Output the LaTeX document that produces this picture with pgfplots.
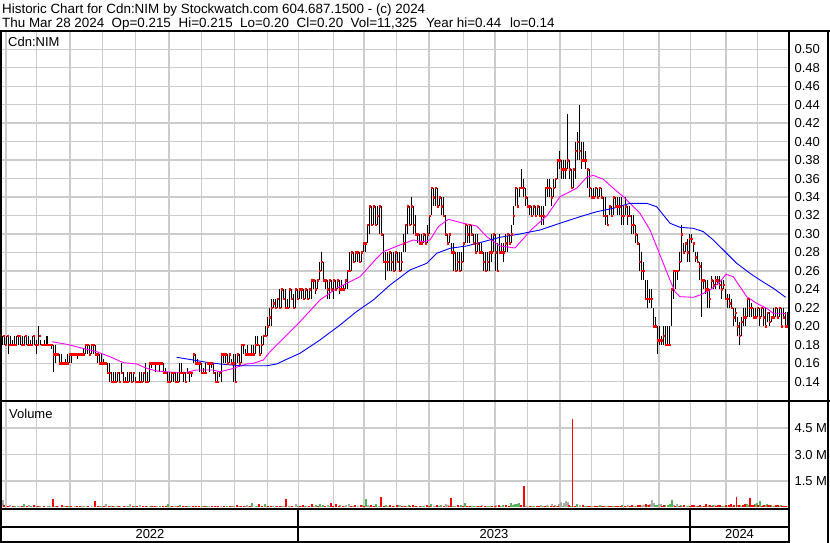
\documentclass[border=0pt]{standalone}
\usepackage{fontspec}
\setmainfont{Liberation Sans}
\usepackage{pgfplots}
\usepackage{pgfplotstable}
\pgfplotsset{compat=1.18}

\definecolor{gridc}{RGB}{204,204,204}
\definecolor{mamag}{RGB}{255,0,255}
\definecolor{mablue}{RGB}{0,0,255}
\definecolor{volred}{RGB}{255,0,0}
\definecolor{volgreen}{RGB}{90,180,90}
\definecolor{volgray}{RGB}{170,170,170}

% x is the horizontal position on the chart (month grid below), prices in dollars
\pgfplotstableread[row sep=\\]{
x h l c\\
3 0.19 0.18 0.19\\ 5 0.19 0.18 0.18\\ 7 0.19 0.18 0.19\\ 9 0.19 0.17 0.18\\ 11 0.19 0.18 0.18\\ 13 0.185 0.18 0.18\\
15 0.19 0.18 0.18\\ 17 0.19 0.18 0.19\\ 19 0.19 0.18 0.19\\ 21 0.19 0.18 0.18\\ 23 0.19 0.18 0.18\\ 25 0.19 0.18 0.19\\
27 0.19 0.18 0.18\\ 29 0.19 0.18 0.18\\ 31 0.185 0.18 0.18\\ 33 0.19 0.18 0.19\\ 35 0.19 0.18 0.18\\ 37 0.185 0.17 0.18\\
39 0.20 0.18 0.19\\ 41 0.185 0.18 0.18\\ 43 0.18 0.18 0.18\\ 45 0.185 0.18 0.18\\ 47 0.19 0.18 0.18\\ 49 0.18 0.18 0.18\\
51 0.18 0.175 0.18\\ 53 0.18 0.15 0.17\\ 55 0.18 0.16 0.17\\ 57 0.17 0.17 0.17\\ 59 0.17 0.16 0.16\\ 61 0.17 0.16 0.16\\
63 0.16 0.16 0.16\\ 65 0.165 0.16 0.16\\ 67 0.17 0.16 0.16\\ 69 0.17 0.16 0.17\\ 71 0.17 0.16 0.17\\ 73 0.17 0.17 0.17\\
75 0.17 0.17 0.17\\ 77 0.17 0.165 0.17\\ 79 0.17 0.17 0.17\\ 81 0.17 0.17 0.17\\ 83 0.175 0.17 0.17\\ 85 0.18 0.17 0.18\\
87 0.18 0.17 0.18\\ 89 0.18 0.17 0.17\\ 91 0.18 0.17 0.18\\ 93 0.18 0.17 0.18\\ 95 0.18 0.17 0.17\\ 97 0.17 0.16 0.17\\
99 0.17 0.16 0.16\\ 101 0.17 0.16 0.16\\ 103 0.165 0.16 0.16\\ 105 0.16 0.16 0.16\\ 107 0.16 0.15 0.15\\ 109 0.16 0.14 0.15\\
111 0.15 0.14 0.14\\ 113 0.15 0.14 0.14\\ 115 0.15 0.14 0.14\\ 117 0.15 0.14 0.15\\ 119 0.15 0.14 0.14\\ 121 0.16 0.15 0.15\\
123 0.15 0.14 0.14\\ 125 0.145 0.14 0.14\\ 127 0.15 0.14 0.14\\ 129 0.15 0.14 0.15\\ 131 0.15 0.14 0.14\\ 133 0.15 0.14 0.15\\
135 0.145 0.14 0.14\\ 137 0.14 0.14 0.14\\ 139 0.15 0.14 0.14\\ 141 0.15 0.14 0.14\\ 143 0.15 0.14 0.15\\ 145 0.16 0.14 0.14\\
147 0.15 0.14 0.14\\ 149 0.16 0.14 0.16\\ 151 0.16 0.155 0.16\\ 153 0.16 0.16 0.16\\ 155 0.16 0.15 0.16\\ 157 0.16 0.16 0.16\\
159 0.16 0.15 0.16\\ 161 0.16 0.16 0.16\\ 163 0.16 0.15 0.15\\ 165 0.155 0.15 0.15\\ 167 0.15 0.14 0.14\\ 169 0.15 0.14 0.14\\
171 0.15 0.14 0.15\\ 173 0.15 0.14 0.15\\ 175 0.15 0.14 0.14\\ 177 0.15 0.14 0.14\\ 179 0.16 0.14 0.15\\ 181 0.16 0.15 0.15\\
183 0.15 0.14 0.15\\ 185 0.15 0.14 0.14\\ 187 0.155 0.15 0.15\\ 189 0.15 0.14 0.15\\ 191 0.15 0.145 0.15\\ 193 0.17 0.16 0.17\\
195 0.17 0.16 0.16\\ 197 0.165 0.16 0.16\\ 199 0.16 0.15 0.16\\ 201 0.16 0.15 0.15\\ 203 0.155 0.15 0.15\\ 205 0.16 0.15 0.15\\
207 0.16 0.16 0.16\\ 209 0.16 0.15 0.16\\ 211 0.16 0.155 0.16\\ 213 0.16 0.15 0.15\\ 215 0.15 0.14 0.14\\ 217 0.15 0.14 0.14\\
219 0.15 0.145 0.15\\ 221 0.17 0.14 0.17\\ 223 0.17 0.16 0.17\\ 225 0.17 0.16 0.17\\ 227 0.17 0.16 0.16\\ 229 0.17 0.16 0.17\\
231 0.165 0.16 0.16\\ 233 0.17 0.14 0.16\\ 235 0.17 0.14 0.14\\ 237 0.17 0.16 0.17\\ 239 0.17 0.16 0.16\\ 241 0.18 0.16 0.18\\
243 0.18 0.17 0.18\\ 245 0.175 0.17 0.17\\ 247 0.18 0.17 0.17\\ 249 0.17 0.17 0.17\\ 251 0.18 0.17 0.17\\ 253 0.18 0.17 0.17\\
255 0.19 0.17 0.18\\ 257 0.19 0.18 0.18\\ 259 0.18 0.17 0.17\\ 261 0.19 0.17 0.18\\ 263 0.19 0.18 0.19\\ 265 0.20 0.19 0.19\\
267 0.21 0.19 0.20\\ 269 0.22 0.20 0.21\\ 271 0.23 0.20 0.22\\ 273 0.23 0.22 0.225\\ 275 0.23 0.22 0.22\\ 277 0.23 0.22 0.23\\
279 0.24 0.22 0.22\\ 281 0.24 0.22 0.24\\ 283 0.24 0.23 0.23\\ 285 0.24 0.22 0.22\\ 287 0.23 0.22 0.22\\ 289 0.24 0.22 0.24\\
291 0.24 0.23 0.23\\ 293 0.235 0.22 0.22\\ 295 0.24 0.22 0.24\\ 297 0.24 0.23 0.23\\ 299 0.24 0.23 0.24\\ 301 0.24 0.23 0.24\\
303 0.24 0.23 0.23\\ 305 0.24 0.23 0.24\\ 307 0.24 0.23 0.23\\ 309 0.24 0.23 0.24\\ 311 0.25 0.23 0.25\\ 313 0.25 0.24 0.25\\
315 0.25 0.235 0.24\\ 317 0.25 0.24 0.25\\ 319 0.27 0.25 0.26\\ 321 0.28 0.26 0.27\\ 323 0.27 0.25 0.25\\ 325 0.25 0.24 0.25\\
327 0.25 0.23 0.24\\ 329 0.25 0.23 0.25\\ 331 0.25 0.24 0.24\\ 333 0.25 0.23 0.25\\ 335 0.25 0.24 0.24\\ 337 0.25 0.24 0.25\\
339 0.25 0.235 0.24\\ 341 0.25 0.24 0.24\\ 343 0.245 0.24 0.24\\ 345 0.25 0.24 0.25\\ 347 0.26 0.24 0.26\\ 349 0.28 0.26 0.26\\
351 0.28 0.26 0.28\\ 353 0.28 0.27 0.27\\ 355 0.28 0.27 0.28\\ 357 0.28 0.27 0.28\\ 359 0.28 0.27 0.27\\ 361 0.28 0.27 0.28\\
363 0.29 0.28 0.29\\ 365 0.29 0.28 0.29\\ 367 0.31 0.29 0.31\\ 369 0.33 0.30 0.33\\ 371 0.33 0.31 0.31\\ 373 0.33 0.31 0.33\\
375 0.33 0.31 0.31\\ 377 0.33 0.31 0.32\\ 379 0.33 0.30 0.33\\ 381 0.33 0.30 0.30\\ 383 0.30 0.27 0.27\\ 385 0.28 0.25 0.27\\
387 0.28 0.26 0.27\\ 389 0.28 0.26 0.28\\ 391 0.28 0.26 0.27\\ 393 0.28 0.26 0.26\\ 395 0.28 0.26 0.28\\ 397 0.28 0.27 0.27\\
399 0.28 0.26 0.26\\ 401 0.28 0.26 0.27\\ 403 0.30 0.28 0.29\\ 405 0.31 0.28 0.31\\ 407 0.33 0.30 0.33\\ 409 0.33 0.31 0.31\\
411 0.34 0.31 0.33\\ 413 0.33 0.30 0.31\\ 415 0.32 0.30 0.30\\ 417 0.30 0.29 0.30\\ 419 0.30 0.29 0.29\\ 421 0.30 0.29 0.29\\
423 0.30 0.29 0.30\\ 425 0.30 0.29 0.29\\ 427 0.31 0.29 0.30\\ 429 0.32 0.30 0.32\\ 431 0.35 0.32 0.35\\ 433 0.35 0.33 0.34\\
435 0.35 0.33 0.35\\ 437 0.35 0.33 0.33\\ 439 0.34 0.33 0.34\\ 441 0.34 0.32 0.33\\ 443 0.34 0.32 0.32\\ 445 0.32 0.30 0.30\\
447 0.30 0.29 0.29\\ 449 0.30 0.29 0.30\\ 451 0.29 0.28 0.28\\ 453 0.29 0.26 0.28\\ 455 0.28 0.26 0.26\\ 457 0.28 0.26 0.27\\
459 0.28 0.26 0.26\\ 461 0.28 0.26 0.27\\ 463 0.29 0.27 0.29\\ 465 0.31 0.29 0.31\\ 467 0.31 0.29 0.30\\ 469 0.31 0.29 0.31\\
471 0.31 0.30 0.30\\ 473 0.30 0.29 0.29\\ 475 0.30 0.28 0.28\\ 477 0.30 0.28 0.29\\ 479 0.29 0.28 0.28\\ 481 0.29 0.28 0.28\\
483 0.28 0.26 0.27\\ 485 0.28 0.26 0.26\\ 487 0.28 0.26 0.27\\ 489 0.28 0.26 0.28\\ 491 0.30 0.27 0.28\\ 493 0.30 0.28 0.30\\
495 0.30 0.26 0.28\\ 497 0.29 0.26 0.26\\ 499 0.30 0.28 0.28\\ 501 0.29 0.28 0.28\\ 503 0.29 0.27 0.28\\ 505 0.30 0.28 0.29\\
507 0.30 0.28 0.30\\ 509 0.30 0.29 0.29\\ 511 0.31 0.29 0.30\\ 513 0.33 0.31 0.32\\ 515 0.35 0.33 0.35\\ 517 0.35 0.33 0.33\\
519 0.35 0.34 0.35\\ 521 0.37 0.35 0.35\\ 523 0.36 0.34 0.35\\ 525 0.35 0.33 0.34\\ 527 0.34 0.33 0.33\\ 529 0.33 0.32 0.33\\
531 0.33 0.32 0.32\\ 533 0.33 0.32 0.33\\ 535 0.33 0.32 0.32\\ 537 0.33 0.32 0.33\\ 539 0.33 0.32 0.32\\ 541 0.33 0.31 0.32\\
543 0.33 0.31 0.32\\ 545 0.35 0.33 0.35\\ 547 0.36 0.34 0.35\\ 549 0.36 0.34 0.35\\ 551 0.35 0.33 0.34\\ 553 0.36 0.34 0.35\\
555 0.36 0.35 0.36\\ 557 0.38 0.36 0.38\\ 559 0.39 0.37 0.38\\ 561 0.38 0.36 0.37\\ 563 0.38 0.36 0.37\\ 565 0.38 0.36 0.37\\
567 0.43 0.37 0.38\\ 569 0.38 0.36 0.37\\ 571 0.37 0.35 0.35\\ 573 0.37 0.35 0.37\\ 575 0.40 0.36 0.39\\ 577 0.41 0.38 0.40\\
579 0.44 0.38 0.39\\ 581 0.40 0.37 0.38\\ 583 0.40 0.38 0.38\\ 585 0.39 0.37 0.38\\ 587 0.37 0.35 0.37\\ 589 0.37 0.34 0.35\\
591 0.35 0.34 0.34\\ 593 0.35 0.34 0.34\\ 595 0.35 0.34 0.35\\ 597 0.35 0.34 0.34\\ 599 0.35 0.34 0.35\\ 601 0.35 0.34 0.34\\
603 0.34 0.32 0.32\\ 605 0.34 0.31 0.32\\ 607 0.32 0.31 0.31\\ 609 0.33 0.32 0.33\\ 611 0.33 0.32 0.32\\ 613 0.34 0.32 0.34\\
615 0.34 0.33 0.33\\ 617 0.34 0.32 0.33\\ 619 0.34 0.32 0.33\\ 621 0.34 0.31 0.32\\ 623 0.33 0.31 0.32\\ 625 0.34 0.32 0.33\\
627 0.33 0.31 0.32\\ 629 0.33 0.32 0.32\\ 631 0.32 0.30 0.31\\ 633 0.32 0.30 0.31\\ 635 0.31 0.29 0.30\\ 637 0.30 0.29 0.29\\
639 0.29 0.26 0.27\\ 641 0.28 0.25 0.26\\ 643 0.27 0.25 0.26\\ 645 0.25 0.23 0.23\\ 647 0.25 0.22 0.23\\ 649 0.24 0.225 0.23\\
651 0.24 0.22 0.23\\ 653 0.22 0.20 0.20\\ 655 0.21 0.20 0.20\\ 657 0.20 0.17 0.185\\ 659 0.20 0.18 0.185\\ 661 0.19 0.18 0.185\\
663 0.20 0.18 0.19\\ 665 0.20 0.18 0.18\\ 667 0.20 0.18 0.18\\ 669 0.20 0.18 0.18\\ 671 0.24 0.20 0.24\\ 673 0.26 0.23 0.26\\
675 0.26 0.24 0.26\\ 677 0.26 0.25 0.26\\ 679 0.28 0.26 0.27\\ 681 0.31 0.27 0.30\\ 683 0.29 0.28 0.28\\ 685 0.29 0.28 0.29\\
687 0.295 0.27 0.28\\ 689 0.30 0.27 0.295\\ 691 0.30 0.29 0.295\\ 693 0.29 0.28 0.29\\ 695 0.28 0.27 0.275\\ 697 0.28 0.27 0.27\\
699 0.27 0.25 0.265\\ 701 0.27 0.21 0.25\\ 703 0.25 0.24 0.25\\ 705 0.25 0.235 0.24\\ 707 0.25 0.22 0.24\\ 709 0.24 0.22 0.23\\
711 0.255 0.24 0.25\\ 713 0.25 0.24 0.245\\ 715 0.255 0.24 0.25\\ 717 0.255 0.245 0.25\\ 719 0.255 0.24 0.245\\ 721 0.25 0.23 0.24\\
723 0.25 0.24 0.245\\ 725 0.24 0.23 0.23\\ 727 0.235 0.22 0.23\\ 729 0.235 0.22 0.225\\ 731 0.23 0.22 0.22\\ 733 0.22 0.20 0.21\\
735 0.22 0.205 0.215\\ 737 0.21 0.19 0.20\\ 739 0.205 0.18 0.19\\ 741 0.21 0.19 0.205\\ 743 0.22 0.20 0.21\\ 745 0.22 0.20 0.21\\
747 0.23 0.21 0.23\\ 749 0.23 0.21 0.22\\ 751 0.225 0.21 0.22\\ 753 0.22 0.21 0.21\\ 755 0.22 0.21 0.21\\ 757 0.22 0.21 0.22\\
759 0.22 0.20 0.21\\ 761 0.22 0.21 0.22\\ 763 0.22 0.20 0.21\\ 765 0.22 0.20 0.20\\ 767 0.215 0.205 0.215\\ 769 0.215 0.20 0.205\\
771 0.21 0.205 0.21\\ 773 0.22 0.21 0.21\\ 775 0.22 0.21 0.22\\ 777 0.22 0.21 0.21\\ 779 0.22 0.21 0.22\\ 781 0.22 0.20 0.20\\
783 0.22 0.21 0.21\\ 785 0.215 0.20 0.20\\ 787 0.215 0.20 0.20\\
}\pricedata

% short moving average (magenta)
\pgfplotstableread[row sep=\\]{
x p\\
52 0.1833\\ 66.7 0.1805\\ 86.7 0.1751\\ 96.7 0.1725\\ 110 0.1671\\ 123.3 0.1606\\ 136.7 0.1592\\ 146.7 0.1545\\
156.7 0.1516\\ 173 0.1502\\ 186.7 0.1502\\ 196.7 0.1527\\ 213 0.1527\\ 220 0.1508\\ 230 0.1534\\ 246.7 0.1592\\
253 0.1599\\ 263.3 0.1635\\ 270 0.1725\\ 280 0.1833\\ 290 0.1942\\ 300 0.2050\\ 320 0.2285\\ 336.7 0.2412\\
360 0.2537\\ 376.7 0.2737\\ 383.3 0.2808\\ 400 0.2881\\ 413.3 0.2935\\ 423.3 0.2916\\ 430 0.2935\\ 438.3 0.3079\\
448.3 0.3159\\ 463.3 0.3116\\ 476.7 0.3086\\ 486.7 0.2971\\ 500 0.2870\\ 515 0.2848\\ 531.7 0.3051\\ 546.7 0.3195\\
560 0.3404\\ 576.7 0.3495\\ 586.7 0.3614\\ 593.3 0.3635\\ 603.3 0.3592\\ 613.3 0.3495\\ 623.3 0.3404\\ 630 0.3332\\
640 0.3224\\ 650 0.3043\\ 656.7 0.2862\\ 663.3 0.2682\\ 670 0.2501\\ 675 0.2375\\ 680 0.2321\\ 693.3 0.2314\\
700 0.2339\\ 710 0.2393\\ 720 0.2483\\ 726 0.2563\\ 733.3 0.2537\\ 740 0.2429\\ 746.7 0.2321\\ 756.7 0.2249\\
766.7 0.2195\\ 773.3 0.2141\\ 783.3 0.2141\\ 786 0.2133\\
}\mashort

% long moving average (blue)
\pgfplotstableread[row sep=\\]{
x p\\
176.7 0.1664\\ 193.3 0.1635\\ 206.7 0.1610\\ 220 0.1592\\ 240 0.1573\\ 266.7 0.1573\\ 276.7 0.1592\\ 286.7 0.1643\\
300 0.1708\\ 320 0.1852\\ 340 0.2014\\ 356 0.2155\\ 373.3 0.2285\\ 390 0.2447\\ 410 0.2610\\ 426.7 0.2682\\
436.7 0.2791\\ 450 0.2845\\ 466.7 0.2870\\ 483.3 0.2916\\ 500 0.2964\\ 520 0.3000\\ 540 0.3043\\ 560 0.3116\\
580 0.3187\\ 596.7 0.3241\\ 613.3 0.3278\\ 630 0.3332\\ 646.7 0.3332\\ 656.7 0.3295\\ 670 0.3116\\ 680 0.3072\\
693.3 0.3061\\ 703.3 0.3025\\ 713.3 0.2935\\ 723.3 0.2827\\ 736.7 0.2682\\ 750 0.2574\\ 760 0.2501\\ 773.3 0.2412\\
785.7 0.2314\\
}\malong

% volume in millions of shares
\pgfplotstableread[row sep=\\]{
x v\\
4 0.16\\ 8 0.07\\ 13 0.1\\ 22 0.09\\ 27 0.06\\ 34 0.13\\ 38 0.09\\ 44 0.09\\ 53 0.47\\ 57 0.07\\ 62 0.12\\ 67 0.06\\
71 0.09\\ 77 0.07\\ 80 0.1\\ 88 0.07\\ 95 0.36\\ 98 0.09\\ 104 0.09\\ 109 0.06\\ 113 0.1\\ 119 0.07\\ 124 0.07\\ 133 0.09\\
137 0.06\\ 143 0.09\\ 146 0.1\\ 152 0.07\\ 155 0.09\\ 163 0.07\\ 166 0.06\\ 172 0.09\\ 178 0.07\\ 183 0.09\\ 186 0.1\\ 193 0.09\\
196 0.06\\ 199 0.07\\ 205 0.09\\ 212 0.07\\ 215 0.07\\ 218 0.09\\ 224 0.1\\ 230 0.09\\ 237 0.16\\ 241 0.07\\ 244 0.07\\ 250 0.1\\
259 0.22\\ 262 0.09\\ 268 0.1\\ 271 0.07\\ 277 0.09\\ 280 0.1\\ 286 0.47\\ 292 0.1\\ 300 0.07\\ 303 0.12\\ 309 0.09\\ 312 0.2\\
318 0.1\\ 325 0.1\\ 331 0.28\\ 333 0.09\\ 336 0.22\\ 339 0.07\\ 343 0.1\\ 351 0.09\\ 355 0.12\\ 361 0.16\\ 364 0.1\\ 371 0.12\\
374 0.09\\ 381 0.6\\ 384 0.1\\ 390 0.13\\ 393 0.09\\ 397 0.12\\ 402 0.07\\ 405 0.1\\ 410 0.1\\ 413 0.15\\ 416 0.09\\ 420 0.1\\
427 0.12\\ 430 0.1\\ 437 0.13\\ 444 0.09\\ 449 0.07\\ 451 0.53\\ 458 0.12\\ 463 0.09\\ 467 0.07\\ 470 0.1\\ 478 0.09\\ 481 0.1\\
485 0.1\\ 492 0.09\\ 495 0.09\\ 499 0.12\\ 506 0.13\\ 509 0.1\\ 521 0.12\\ 524 1.2\\ 530 0.1\\ 537 0.09\\ 539 0.09\\ 545 0.1\\
551 0.09\\ 554 0.07\\ 558 0.09\\ 569 0.12\\ 572.5 5.0\\ 575 0.1\\ 583 0.13\\ 588 0.09\\ 590 0.09\\ 595 0.07\\ 597 0.1\\ 602 0.09\\
604 0.09\\ 609 0.07\\ 611 0.07\\ 616 0.1\\ 618 0.09\\ 621 0.09\\ 625 0.1\\ 630 0.1\\ 632 0.13\\ 638 0.12\\ 640 0.16\\ 646 0.2\\
649 0.13\\ 662 0.09\\ 664 0.12\\ 675 0.1\\ 680 0.09\\ 684 0.13\\ 690 0.1\\ 692 0.12\\ 694 0.16\\ 698 0.1\\ 700 0.12\\ 704 0.09\\
706 0.18\\ 710 0.13\\ 712 0.1\\ 716 0.1\\ 718 0.16\\ 720 0.15\\ 726 0.13\\ 729 0.12\\ 731 0.2\\ 734 0.13\\ 736.5 0.6\\ 739 0.15\\
743 0.16\\ 745 0.18\\ 750 0.53\\ 752 0.13\\ 754 0.16\\ 758 0.12\\ 762 0.1\\ 764 0.13\\ 768 0.13\\ 770 0.16\\ 776 0.12\\ 778 0.13\\
782 0.09\\ 784 0.1\\ 786 0.1\\
}\volred

\pgfplotstableread[row sep=\\]{
x v\\
15 0.06\\ 24 0.19\\ 31 0.07\\ 40 0.07\\ 50 0.06\\ 66 0.09\\ 69 0.07\\ 84 0.09\\ 87 0.06\\ 100 0.07\\ 111 0.07\\ 117 0.09\\
128 0.07\\ 135 0.06\\ 150 0.1\\ 154 0.07\\ 160 0.09\\ 168 0.19\\ 171 0.09\\ 180 0.13\\ 188 0.07\\ 202 0.09\\ 207 0.06\\ 227 0.07\\
232 0.09\\ 240 0.1\\ 245 0.07\\ 252 0.25\\ 257 0.09\\ 265 0.18\\ 276 0.07\\ 282 0.09\\ 290 0.09\\ 298 0.1\\ 305 0.1\\ 316 0.13\\
320 0.19\\ 323 0.12\\ 330 0.09\\ 340 0.15\\ 344 0.1\\ 352 0.09\\ 362 0.13\\ 366 0.47\\ 370 0.1\\ 376 0.2\\ 380 0.09\\ 386 0.13\\
394 0.1\\ 398 0.12\\ 403 0.09\\ 409 0.13\\ 415 0.1\\ 424 0.09\\ 428 0.09\\ 431 0.2\\ 439 0.1\\ 441 0.12\\ 453 0.09\\ 461 0.15\\
465 0.28\\ 472 0.09\\ 474 0.1\\ 479 0.1\\ 488 0.09\\ 490 0.07\\ 500 0.09\\ 503 0.12\\ 511 0.25\\ 513 0.16\\ 515 0.2\\ 517 0.18\\
519 0.25\\ 525 0.1\\ 532 0.09\\ 534 0.1\\ 543 0.1\\ 548 0.09\\ 557 0.09\\ 563 0.1\\ 571 0.09\\ 577 0.22\\ 584 0.09\\ 586 0.1\\
598 0.1\\ 600 0.12\\ 612 0.09\\ 614 0.09\\ 622 0.12\\ 626 0.07\\ 636 0.1\\ 641 0.1\\ 647 0.12\\ 655 0.13\\ 657 0.16\\ 665 0.13\\
668 0.16\\ 670 0.18\\ 672 0.41\\ 679 0.1\\ 681 0.12\\ 688 0.09\\ 697 0.1\\ 701 0.1\\ 709 0.13\\ 713 0.12\\ 722 0.09\\ 724 0.1\\
738 0.12\\ 740 0.15\\ 747 0.2\\ 749 0.16\\ 755 0.18\\ 757 0.25\\ 760 0.38\\ 765 0.16\\ 767 0.18\\ 771 0.12\\ 774 0.1\\ 779 0.1\\
781 0.12\\ 785 0.09\\
}\volgreen

\pgfplotstableread[row sep=\\]{
x v\\
3 0.4\\ 10 0.13\\ 18 0.1\\ 20 0.06\\ 29 0.16\\ 36 0.06\\ 48 0.09\\ 55 0.07\\ 58 0.09\\ 64 0.06\\ 75 0.1\\ 82 0.07\\
92 0.07\\ 102 0.06\\ 106 0.22\\ 114 0.07\\ 120 0.09\\ 126 0.09\\ 130 0.18\\ 140 0.16\\ 147 0.07\\ 157 0.09\\ 174 0.06\\ 176 0.1\\
185 0.07\\ 190 0.09\\ 195 0.06\\ 204 0.07\\ 209 0.07\\ 217 0.06\\ 221 0.09\\ 234 0.1\\ 238 0.07\\ 247 0.12\\ 249 0.09\\ 256 0.09\\
266 0.07\\ 273 0.1\\ 284 0.09\\ 289 0.09\\ 296 0.18\\ 302 0.07\\ 307 0.09\\ 314 0.09\\ 322 0.07\\ 328 0.12\\ 346 0.13\\ 349 0.18\\
354 0.09\\ 358 0.1\\ 368 0.12\\ 373 0.09\\ 379 0.1\\ 388 0.1\\ 400 0.13\\ 407 0.09\\ 417 0.09\\ 422 0.07\\ 434 0.1\\ 436 0.09\\
446 0.2\\ 448 0.13\\ 455 0.1\\ 460 0.09\\ 468 0.09\\ 476 0.09\\ 482 0.12\\ 486 0.09\\ 496 0.13\\ 502 0.1\\ 527 0.1\\ 541 0.12\\
547 0.13\\ 552 0.18\\ 555 0.16\\ 559 0.22\\ 561 0.3\\ 564 0.25\\ 566 0.38\\ 568 0.3\\ 580 0.12\\ 587 0.09\\ 593 0.1\\ 605 0.07\\
607 0.09\\ 620 0.09\\ 628 0.12\\ 634 0.1\\ 643 0.13\\ 645 0.16\\ 650 0.22\\ 652 0.41\\ 654 0.25\\ 659 0.2\\ 661 0.18\\ 674 0.16\\
677 0.22\\ 683 0.1\\ 687 0.1\\ 696 0.09\\ 703 0.09\\ 708 0.09\\ 715 0.12\\ 719 0.1\\ 728 0.09\\ 733 0.1\\ 742 0.1\\ 763 0.13\\
766 0.09\\ 772 0.1\\ 775 0.09\\ 788 0.07\\
}\volgray

\pgfplotsset{
  panel/.style={
    scale only axis, width=787pt,
    xmin=2, xmax=789,
    axis line style={draw=none},
    major tick length=0pt,
    xtick={6,36.7,70,102.7,135.7,169,201.7,234.3,267.3,298.3,333.3,364,396.7,429,463.3,495,527.7,560,591.7,623.3,659,690.7,726,757.3},
    xticklabel=\empty,
    xmajorgrids, ymajorgrids,
    grid style={gridc, line width=1.4pt},
    yticklabel pos=right,
    tick label style={font=\fontsize{13}{15}\selectfont},
    yticklabel style={anchor=west, xshift=2pt},
    /pgf/number format/assume math mode=true,
  },
}

\begin{document}
\begin{tikzpicture}[font=\fontsize{13}{15}\selectfont]
\path[use as bounding box] (0,0) rectangle (830pt,543pt);

% price panel
\begin{axis}[panel, at={(2pt,143pt)}, anchor=south west, height=369pt,
    ymin=0.1202, ymax=0.5198,
    ytick={0.14,0.16,0.18,0.20,0.22,0.24,0.26,0.28,0.30,0.32,0.34,0.36,0.38,0.40,0.42,0.44,0.46,0.48,0.50},
    yticklabel style={/pgf/number format/.cd, fixed, fixed zerofill, precision=2},
]
\addplot[volred, only marks, mark=square*, mark size=0.75pt, mark options={xshift=0.8pt},
    error bars/.cd, y dir=both, y explicit, error mark=none,
    error bar style={black, line width=1pt}]
  table[x=x, y=c, y error plus expr=\thisrow{h}-\thisrow{c}, y error minus expr=\thisrow{c}-\thisrow{l}] {\pricedata};
\addplot[mamag, line width=0.9pt] table[x=x, y=p] {\mashort};
\addplot[mablue, line width=0.9pt] table[x=x, y=p] {\malong};
\end{axis}

% volume panel
\begin{axis}[panel, at={(2pt,34pt)}, anchor=south west, height=107pt,
    ymin=-0.085, ymax=5.975,
    ytick={1.5,3,4.5}, yticklabels={1.5 M,3.0 M,4.5 M},
]
\addplot[ycomb, volgray, line width=1.8pt] table[x=x, y=v] {\volgray};
\addplot[ycomb, volgreen, line width=1.8pt] table[x=x, y=v] {\volgreen};
\addplot[ycomb, volred, line width=1.8pt] table[x=x, y=v] {\volred};
\end{axis}

% frame
\draw[line width=2pt] (0,512pt) -- (830pt,512pt);
\draw[line width=2.4pt] (0,142pt) -- (830pt,142pt);
\draw[line width=2pt] (0,33.5pt) -- (789pt,33.5pt);
\draw[line width=2pt] (0,16pt) -- (789pt,16pt);
\draw[line width=2pt] (0,1pt) -- (789pt,1pt);
\draw[line width=2pt] (1pt,0) -- (1pt,512pt);
\draw[line width=2pt] (789pt,0) -- (789pt,512pt);
\draw[line width=1.5pt] (828pt,0) -- (828pt,512pt);
\draw[line width=1.5pt] (298pt,0) -- (298pt,33.5pt);
\draw[line width=1.5pt] (690pt,0) -- (690pt,33.5pt);

% texts
\begin{scope}[font=\fontsize{13.4}{16}\selectfont]
\node[anchor=base west, inner sep=0] at (2pt,529pt) {Historic Chart for Cdn:NIM by Stockwatch.com 604.687.1500 - (c) 2024};
\node[anchor=base west, inner sep=0] at (2pt,515.5pt) {Thu Mar 28 2024};
\node[anchor=base west, inner sep=0] at (111.5pt,515.5pt) {Op=0.215};
\node[anchor=base west, inner sep=0] at (178.5pt,515.5pt) {Hi=0.215};
\node[anchor=base west, inner sep=0] at (240pt,515.5pt) {Lo=0.20};
\node[anchor=base west, inner sep=0] at (296.5pt,515.5pt) {Cl=0.20};
\node[anchor=base west, inner sep=0] at (350.5pt,515.5pt) {Vol=11,325};
\node[anchor=base west, inner sep=0] at (426pt,515.5pt) {Year hi=0.44};
\node[anchor=base west, inner sep=0] at (510pt,515.5pt) {lo=0.14};
\end{scope}
\node[anchor=west, inner sep=0] at (8pt,501pt) {Cdn:NIM};
\node[anchor=west, inner sep=0] at (9pt,129pt) {Volume};
\node[anchor=base, inner sep=0] at (150pt,4pt) {2022};
\node[anchor=base, inner sep=0] at (494pt,4pt) {2023};
\node[anchor=base, inner sep=0] at (739.5pt,4pt) {2024};
\end{tikzpicture}
\end{document}
